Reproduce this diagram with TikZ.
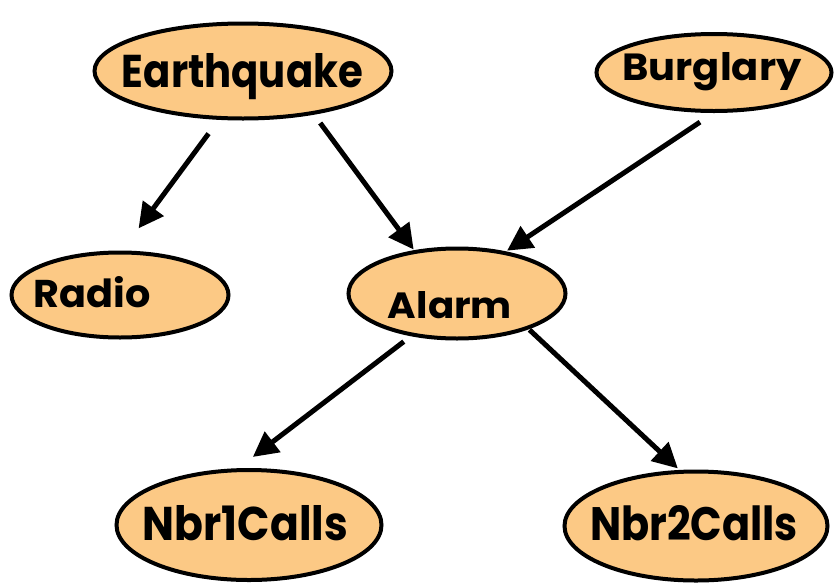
\documentclass[tikz,border=0pt]{standalone}
\usepackage{fontspec}
\setmainfont{Poppins}
\usetikzlibrary{shapes.geometric,arrows.meta}
\definecolor{peach}{RGB}{252,201,133}
% text fitted to a given width and height
\newcommand{\fitlabel}[3]{\resizebox{#1pt}{#2pt}{\bfseries #3}}
\begin{document}
\begin{tikzpicture}[x=1pt,y=-1pt,
  var/.style={ellipse, draw=black, fill=peach, line width=4pt,
              inner sep=0pt, outer sep=0pt},
  lbl/.style={inner sep=0pt, anchor=base},
  edge/.style={line width=5pt, -{Triangle[length=25pt,width=25pt]}}]
\useasboundingbox (0,0) rectangle (835,584);

% variables
\node[var, minimum width=297pt, minimum height=95pt] (eq) at (243,71) {};
\node[var, minimum width=235pt, minimum height=77pt] (bg) at (714,72.5) {};
\node[var, minimum width=217pt, minimum height=85pt] (radio) at (120,295) {};
\node[var, minimum width=217pt, minimum height=90pt] (alarm) at (457,293.5) {};
\node[var, minimum width=265pt, minimum height=110pt] (n1) at (249,525) {};
\node[var, minimum width=263pt, minimum height=109pt] (n2) at (696,526) {};

% names
\node[lbl] (eqt) at (242.5,87) {\fitlabel{241}{34}{Earthquake}};
\node[lbl] (bgt) at (712,80) {\fitlabel{179}{28}{Burglary}};
\node[lbl] (radiot) at (92,307) {\fitlabel{117}{31}{Radio}};
\node[lbl] (alarmt) at (450,318) {\fitlabel{124}{27}{Alarm}};
\node[lbl] (n1t) at (245.5,540) {\fitlabel{205}{35}{Nbr1Calls}};
\node[lbl] (n2t) at (694,540) {\fitlabel{208}{35}{Nbr2Calls}};

% dependencies
\draw[edge, shorten <=19.5pt, shorten >=30pt] (eq.244) -- (radio.89);
\draw[edge, shorten <=12.5pt, shorten >=3pt] (eq.329.5) -- (alarm.135);
\draw[edge, shorten <=20pt, shorten >=4pt] (bg.274) -- (alarm.41);
\draw[edge, shorten <=11.5pt, shorten >=22pt] (alarm.223) -- (n1.104);
\draw[edge, shorten <=3pt, shorten >=5pt] (alarm.334) -- (n2.105);
\end{tikzpicture}
\end{document}
